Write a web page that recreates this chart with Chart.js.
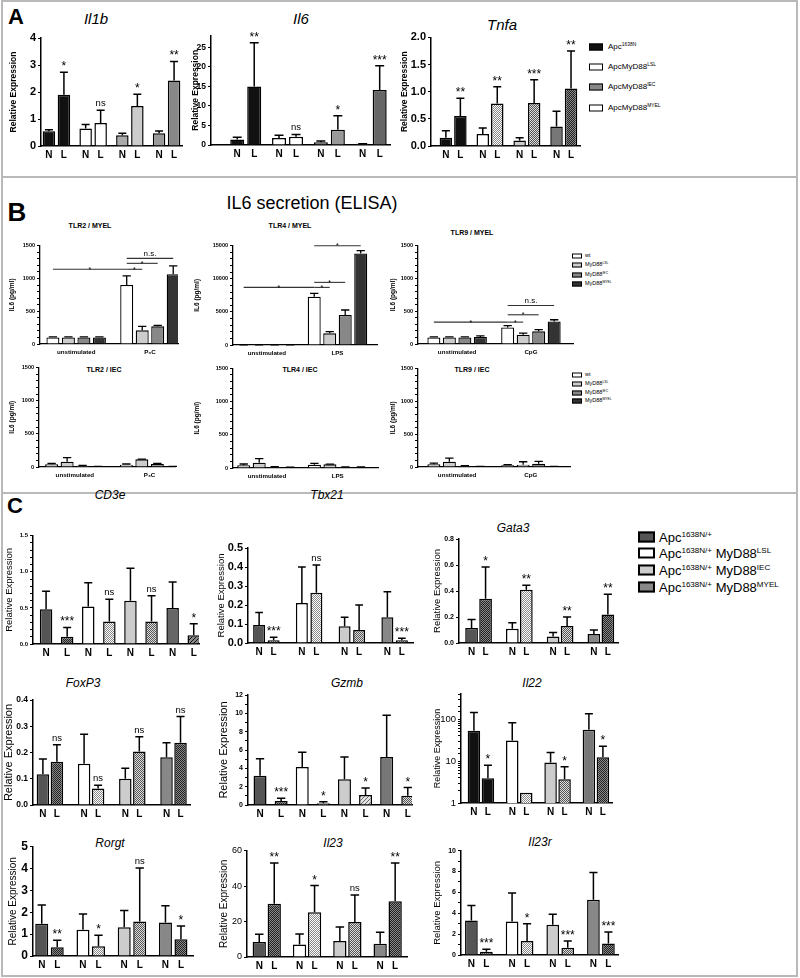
<!DOCTYPE html>
<html lang="en">
<head>
<meta charset="UTF-8">
<title>Cytokine expression and IL6 secretion</title>
<script src="https://cdn.jsdelivr.net/npm/chart.js@4.4.1/dist/chart.umd.min.js"></script>
<style>
  body { margin: 0; background: #fff; }
  #page { position: relative; width: 800px; height: 978px; overflow: hidden; font-family: "Liberation Sans", Arial, sans-serif; color: #000; }
  .box { position: absolute; border: 2px solid #b9b9b9; box-sizing: border-box; }
  canvas { position: absolute; }
  .t { position: absolute; white-space: nowrap; transform: translate(-50%, -50%); line-height: 1; }
  .row { position: absolute; white-space: nowrap; line-height: 1; transform: translateY(-50%); }
  .sw { position: absolute; box-sizing: border-box; border: 1.5px solid #000; transform: translateY(-50%); }
  sup { font-size: 62%; vertical-align: 0.55em; line-height: 0; }
</style>
</head>
<body>
<div id="page">
  <div class="box" style="left:1px;top:0;width:797px;height:178px"></div>
  <div class="box" style="left:1px;top:176px;width:797px;height:318px"></div>
  <div class="box" style="left:1px;top:492px;width:797px;height:485px"></div>

  <div class="t" style="left:16px;top:17px;font-size:22px;font-weight:bold">A</div>
  <div class="t" style="left:96px;top:18px;font-size:15px;font-style:italic">Il1b</div>
  <div class="t" style="left:301px;top:18px;font-size:15px;font-style:italic">Il6</div>
  <div class="t" style="left:502px;top:24px;font-size:15px;font-style:italic">Tnfa</div>

  <div class="sw" style="left:589px;top:47px;width:14px;height:7px;background:#111"></div>
  <div class="row" style="left:608px;top:47px;font-size:8px">Apc<sup>1638N</sup></div>
  <div class="sw" style="left:589px;top:67px;width:14px;height:7px;background:#fff"></div>
  <div class="row" style="left:608px;top:67px;font-size:8px">ApcMyD88<sup>LSL</sup></div>
  <div class="sw" style="left:589px;top:87px;width:14px;height:7px;background:#888"></div>
  <div class="row" style="left:608px;top:87px;font-size:8px">ApcMyD88<sup>IEC</sup></div>
  <div class="sw" style="left:589px;top:108px;width:14px;height:7px;background:#fff"></div>
  <div class="row" style="left:608px;top:108px;font-size:8px">ApcMyD88<sup>MYEL</sup></div>

  <div class="t" style="left:17px;top:212px;font-size:26px;font-weight:bold">B</div>
  <div class="t" style="left:312px;top:203px;font-size:18px">IL6 secretion (ELISA)</div>
  <div class="t" style="left:90px;top:225px;font-size:7px;font-weight:bold">TLR2 / MYEL</div>
  <div class="t" style="left:290px;top:225px;font-size:7px;font-weight:bold">TLR4 / MYEL</div>
  <div class="t" style="left:472px;top:232px;font-size:7px;font-weight:bold">TLR9 / MYEL</div>
  <div class="t" style="left:104px;top:369px;font-size:7px;font-weight:bold">TLR2 / IEC</div>
  <div class="t" style="left:300px;top:369px;font-size:7px;font-weight:bold">TLR4 / IEC</div>
  <div class="t" style="left:472px;top:369px;font-size:7px;font-weight:bold">TLR9 / IEC</div>

  <div class="sw" style="left:572px;top:256px;width:10px;height:5px;background:#fff"></div>
  <div class="row" style="left:585px;top:256px;font-size:5.5px">wt</div>
  <div class="sw" style="left:572px;top:265px;width:10px;height:5px;background:#ccc"></div>
  <div class="row" style="left:585px;top:265px;font-size:5.5px">MyD88<sup>LSL</sup></div>
  <div class="sw" style="left:572px;top:275px;width:10px;height:5px;background:#888"></div>
  <div class="row" style="left:585px;top:275px;font-size:5.5px">MyD88<sup>IEC</sup></div>
  <div class="sw" style="left:572px;top:284px;width:10px;height:5px;background:#333"></div>
  <div class="row" style="left:585px;top:284px;font-size:5.5px">MyD88<sup>MYEL</sup></div>

  <div class="sw" style="left:572px;top:375px;width:10px;height:5px;background:#fff"></div>
  <div class="row" style="left:585px;top:375px;font-size:5.5px">wt</div>
  <div class="sw" style="left:572px;top:384px;width:10px;height:5px;background:#ccc"></div>
  <div class="row" style="left:585px;top:384px;font-size:5.5px">MyD88<sup>LSL</sup></div>
  <div class="sw" style="left:572px;top:393px;width:10px;height:5px;background:#888"></div>
  <div class="row" style="left:585px;top:393px;font-size:5.5px">MyD88<sup>IEC</sup></div>
  <div class="sw" style="left:572px;top:401px;width:10px;height:5px;background:#333"></div>
  <div class="row" style="left:585px;top:401px;font-size:5.5px">MyD88<sup>MYEL</sup></div>

  <div class="t" style="left:15px;top:506px;font-size:22px;font-weight:bold">C</div>
  <div class="t" style="left:110px;top:495px;font-size:12px;font-style:italic">CD3e</div>
  <div class="t" style="left:327px;top:495px;font-size:12px;font-style:italic">Tbx21</div>
  <div class="t" style="left:513px;top:528px;font-size:12px;font-style:italic">Gata3</div>
  <div class="t" style="left:83px;top:683px;font-size:12px;font-style:italic">FoxP3</div>
  <div class="t" style="left:347px;top:683px;font-size:12px;font-style:italic">Gzmb</div>
  <div class="t" style="left:532px;top:683px;font-size:12px;font-style:italic">Il22</div>
  <div class="t" style="left:110px;top:843px;font-size:12px;font-style:italic">Rorgt</div>
  <div class="t" style="left:333px;top:843px;font-size:12px;font-style:italic">Il23</div>
  <div class="t" style="left:540px;top:842px;font-size:12px;font-style:italic">Il23r</div>

  <div class="sw" style="left:638px;top:537px;width:17px;height:11px;border-width:2px;background:#555"></div>
  <div class="row" style="left:659px;top:537px;font-size:13px">Apc<sup>1638N/+</sup></div>
  <div class="sw" style="left:638px;top:553px;width:17px;height:11px;border-width:2px;background:#fff"></div>
  <div class="row" style="left:659px;top:553px;font-size:13px">Apc<sup>1638N/+</sup> MyD88<sup>LSL</sup></div>
  <div class="sw" style="left:638px;top:570px;width:17px;height:11px;border-width:2px;background:#ccc"></div>
  <div class="row" style="left:659px;top:570px;font-size:13px">Apc<sup>1638N/+</sup> MyD88<sup>IEC</sup></div>
  <div class="sw" style="left:638px;top:587px;width:17px;height:11px;border-width:2px;background:#888"></div>
  <div class="row" style="left:659px;top:587px;font-size:13px">Apc<sup>1638N/+</sup> MyD88<sup>MYEL</sup></div>
</div>

<script>
// ---- data: bars in order N,L,N,L,... (A, C) or wt,LSL,IEC,MYEL per stimulus (B)
const nlLabels = ["N", "L"];

// panel A
const il1bMean  = [0.55, 1.9, 0.65, 0.85, 0.4, 1.48, 0.47, 2.43];
const il1bUpper = [0.6, 2.73, 0.8, 1.32, 0.47, 1.92, 0.56, 3.13];
const il1bSig   = ["", "*", "", "ns", "", "*", "", "**"];
const il6Mean   = [1.4, 15, 1.8, 2.1, 0.7, 3.9, 0.3, 14.1];
const il6Upper  = [2.0, 26.2, 2.5, 2.7, 1.0, 7.5, 0.35, 20.3];
const il6Sig    = ["", "**", "", "ns", "", "*", "", "***"];
const tnfaMean  = [0.15, 0.55, 0.22, 0.78, 0.1, 0.79, 0.36, 1.06];
const tnfaUpper = [0.28, 0.88, 0.33, 1.09, 0.15, 1.22, 0.64, 1.75];
const tnfaSig   = ["", "**", "", "**", "", "***", "", "**"];

// panel B
const tlr2Groups = ["unstimulated", "P\u2083C"];
const tlr4Groups = ["unstimulated", "LPS"];
const tlr9Groups = ["unstimulated", "CpG"];
const tlr2MyelMean  = [100, 100, 100, 100, 902, 208, 269, 1064];
const tlr2MyelUpper = [110, 110, 108, 108, 1039, 269, 284, 1191];
const tlr2MyelBrackets = [[0, 4, 1140, "*"], [4, 5, 1140, "*"], [4, 6, 1231, "*"], [4, 7, 1307, "n.s."]];
const tlr4MyelMean  = [30, 30, 30, 30, 7300, 1760, 4530, 13840];
const tlr4MyelUpper = [40, 40, 40, 40, 7800, 2010, 5285, 14245];
const tlr4MyelBrackets = [[0, 4, 8700, "*"], [4, 5, 8700, "*"], [4, 6, 9460, "*"], [4, 7, 15000, "*"]];
const tlr9MyelMean  = [100, 100, 100, 105, 253, 142, 193, 345];
const tlr9MyelUpper = [108, 108, 108, 125, 279, 167, 218, 370];
const tlr9MyelBrackets = [[0, 4, 334, "*"], [4, 5, 334, "*"], [4, 6, 446, "*"], [4, 7, 588, "n.s."]];
const tlr2IecMean  = [40, 80, 20, 8, 35, 115, 45, 8];
const tlr2IecUpper = [55, 140, 25, 10, 45, 118, 55, 10];
const tlr4IecMean  = [40, 80, 15, 10, 50, 55, 15, 12];
const tlr4IecUpper = [60, 140, 20, 12, 70, 58, 18, 15];
const tlr9IecMean  = [40, 80, 15, 8, 25, 35, 50, 8];
const tlr9IecUpper = [60, 135, 20, 10, 35, 80, 85, 10];

// panel C
const cd3eMean   = [0.48, 0.1, 0.52, 0.31, 0.6, 0.31, 0.5, 0.12];
const cd3eUpper  = [0.73, 0.23, 0.85, 0.62, 1.05, 0.67, 0.86, 0.28];
const cd3eSig    = ["", "***", "", "ns", "", "ns", "", "*"];
const tbx21Mean  = [0.095, 0.015, 0.21, 0.265, 0.088, 0.068, 0.135, 0.015];
const tbx21Upper = [0.16, 0.03, 0.4, 0.41, 0.135, 0.2, 0.27, 0.025];
const tbx21Sig   = ["", "***", "", "ns", "", "", "", "***"];
const gata3Mean  = [0.115, 0.34, 0.11, 0.41, 0.05, 0.13, 0.07, 0.22];
const gata3Upper = [0.18, 0.585, 0.155, 0.445, 0.08, 0.2, 0.1, 0.375];
const gata3Sig   = ["", "*", "", "**", "", "**", "", "**"];
const foxp3Mean  = [0.117, 0.165, 0.157, 0.063, 0.1, 0.204, 0.182, 0.237];
const foxp3Upper = [0.175, 0.23, 0.27, 0.075, 0.14, 0.26, 0.237, 0.337];
const foxp3Sig   = ["", "ns", "", "ns", "", "ns", "", "ns"];
const gzmbMean   = [3.2, 0.45, 4.15, 0.2, 2.8, 1.1, 5.25, 1.0];
const gzmbUpper  = [5.05, 0.75, 5.75, 0.35, 5.25, 1.85, 9.8, 1.9];
const gzmbSig    = ["", "***", "", "*", "", "*", "", "*"];
const il22Mean   = [53, 3.9, 31, 1.75, 9.3, 3.7, 56, 12.3];
const il22Upper  = [145, 8, 82, 1.75, 16, 7.3, 135, 22.5];
const il22Sig    = ["", "*", "", "", "", "*", "", "*"];
const rorgtMean  = [1.48, 0.4, 1.2, 0.45, 1.32, 1.58, 1.53, 0.77];
const rorgtUpper = [2.33, 0.72, 1.92, 0.95, 2.08, 4.02, 2.3, 1.37];
const rorgtSig   = ["", "**", "", "*", "", "ns", "", "*"];
const il23Mean   = [8.5, 30, 7, 25.3, 9, 19.8, 7.5, 31.5];
const il23Upper  = [12.8, 53, 13, 40.3, 17, 35, 14, 53];
const il23Sig    = ["", "**", "", "*", "", "ns", "", "**"];
const il23rMean  = [3.3, 0.3, 3.2, 1.35, 2.9, 0.7, 5.3, 1.1];
const il23rUpper = [4.75, 0.55, 5.95, 3.0, 3.9, 1.35, 7.9, 2.2];
const il23rSig   = ["", "***", "", "*", "", "***", "", "***"];

// ---- styles
const FONT = '"Liberation Sans", Arial, sans-serif';
Chart.defaults.font.family = FONT;
Chart.defaults.color = '#000';

function pattern(bg, fg, kind) {
  const c = document.createElement('canvas');
  c.width = 4; c.height = 4;
  const g = c.getContext('2d');
  g.fillStyle = bg; g.fillRect(0, 0, 4, 4);
  g.fillStyle = fg;
  for (let i = 0; i < 4; i++) for (let j = 0; j < 4; j++) {
    const on = kind === 'hatch' ? (i + j) % 4 === 0 : (i + j) % 2 === 0;
    if (on) g.fillRect(i, j, 1, 1);
  }
  return g.createPattern(c, 'repeat');
}
const pats = {
  pL: pattern('#fff', '#888', 'chk'),
  pM: pattern('#ddd', '#555', 'chk'),
  pD: pattern('#888', '#222', 'chk'),
  hL: pattern('#e4e4e4', '#666', 'hatch'),
  hD: pattern('#888', '#111', 'hatch')
};
const fillOf = k => pats[k] || k;

const fillIl1b = ['#111', '#111', '#fff', '#fff', '#aaa', '#ccc', '#999', '#888'];
const fillIl6  = ['#111', '#111', '#fff', '#fff', '#777', '#999', '#999', '#666'];
const fillTnfa = ['#111', '#111', '#fff', 'pL', '#ccc', 'pM', '#777', 'pD'];
const fillB    = ['#fff', '#ccc', '#888', '#333', '#fff', '#ccc', '#888', '#333'];
const fillC    = ['#555', 'pD', '#fff', 'pL', '#ccc', 'pM', '#888', 'pD'];
const fillCd3e = ['#555', 'pD', '#fff', 'pL', '#ccc', 'pM', '#666', 'hD'];
const fillGzmb = ['#555', 'pD', '#fff', 'pL', '#ccc', 'hL', '#777', 'pM'];
const fillIl22 = ['#111', '#111', '#fff', 'pL', '#ccc', 'pM', '#777', 'pD'];

const page = document.getElementById('page');

function build(s) {
  const PT = 16, PR = 8, LB = 22;
  const cl = Math.round(s.yTitleX - s.yTitleFont[0] * 0.6);
  const ct = Math.round(s.area[1]) - PT;
  const LW = s.area[0] - cl;
  const cv = document.createElement('canvas');
  cv.width = Math.round(s.area[2]) - cl + PR;
  cv.height = Math.round(s.area[3]) - ct + LB;
  cv.style.left = cl + 'px';
  cv.style.top = ct + 'px';
  page.appendChild(cv);

  const nds = s.nds;
  const groups = s.mean.length / nds;
  const groupIdx = [];
  for (let g = 0; g < groups; g++) groupIdx.push(g);
  const span = (s.area[2] - s.area[0]) / (s.xmax - s.xmin);
  const datasets = [];
  for (let d = 0; d < nds; d++) {
    const idx = groupIdx.map(g => g * nds + d);
    datasets.push({
      data: idx.map((i, g) => ({ x: g, y: s.mean[i] })),
      backgroundColor: idx.map(i => fillOf(s.fill[i])),
      borderColor: '#000',
      borderWidth: s.bw || 1.5,
      borderSkipped: 'bottom',
      categoryPercentage: nds * s.slot / span,
      barPercentage: s.bar / s.slot
    });
  }

  const tickStep = s.minor || s.step;
  const onStep = (v, st) => Math.abs(v / st - Math.round(v / st)) < 1e-6;
  const yScale = {
    type: s.log ? 'logarithmic' : 'linear',
    min: s.log ? 1 : 0,
    max: s.max,
    bounds: 'data',
    afterFit: sc => { sc.width = LW; },
    // keep only ticks on the step grid (drops the bare max bound)
    afterBuildTicks: sc => { if (!s.log) sc.ticks = sc.ticks.filter(t => onStep(t.value, tickStep)); },
    border: { display: true, color: '#000', width: s.aw || 1.5 },
    grid: { drawOnChartArea: false, drawTicks: true, tickLength: 3, tickColor: '#000', tickWidth: 1.2 },
    ticks: {
      stepSize: s.log ? undefined : tickStep,
      includeBounds: false,
      autoSkip: false,
      padding: 2,
      color: '#000',
      font: { size: s.tick[0], weight: s.tick[1] },
      callback: v => s.log ? ([1, 10, 100].includes(v) ? String(v) : '') : (onStep(v, s.step) ? v.toFixed(s.dec) : '')
    },
    title: { display: true, text: s.yTitle, padding: 0, color: '#000', font: { size: s.yTitleFont[0], weight: s.yTitleFont[1] } }
  };

  const extras = {
    id: 'extras',
    afterDatasetsDraw(chart) {
      const ctx = chart.ctx, ys = chart.scales.y, xs = chart.scales.x, area = chart.chartArea;
      const bars = [];
      chart.data.datasets.forEach((ds, d) => {
        chart.getDatasetMeta(d).data.forEach((el, g) => { bars[g * nds + d] = el; });
      });
      ctx.save();
      ctx.strokeStyle = '#000';
      ctx.fillStyle = '#000';
      ctx.textAlign = 'center';
      bars.forEach((el, i) => {
        let top = el.y;
        if (s.upper[i] > s.mean[i]) {
          top = ys.getPixelForValue(s.upper[i]);
          const cap = el.width * 0.32;
          ctx.lineWidth = s.ew || 1.5;
          ctx.beginPath();
          ctx.moveTo(el.x, el.y); ctx.lineTo(el.x, top);
          ctx.moveTo(el.x - cap, top); ctx.lineTo(el.x + cap, top);
          ctx.stroke();
        }
        const sg = s.sig && s.sig[i];
        if (sg) {
          const star = sg[0] === '*';
          ctx.font = (star ? s.starSize || 12 : s.nsSize || 9.5) + 'px ' + FONT;
          ctx.textBaseline = 'alphabetic';
          ctx.fillText(sg, el.x, top - (star ? 2 : 4));
        }
        if (s.nl) {
          ctx.font = 'bold ' + (s.nlSize || 10) + 'px ' + FONT;
          ctx.textBaseline = 'middle';
          ctx.fillText(s.nl[i % s.nl.length], el.x, area.bottom + 9);
        }
      });
      (s.groups || []).forEach((lab, g) => {
        ctx.font = 'bold 6.2px ' + FONT;
        ctx.textBaseline = 'middle';
        ctx.fillText(lab, xs.getPixelForValue(g), area.bottom + 8);
      });
      (s.brackets || []).forEach(([a, b, v, lab]) => {
        const y = ys.getPixelForValue(v);
        ctx.lineWidth = 1.1;
        ctx.strokeStyle = '#333';
        ctx.beginPath(); ctx.moveTo(bars[a].x, y); ctx.lineTo(bars[b].x, y); ctx.stroke();
        const star = lab[0] === '*';
        ctx.font = (star ? 7 : 8) + 'px ' + FONT;
        ctx.textBaseline = 'alphabetic';
        ctx.fillText(lab, (bars[a].x + bars[b].x) / 2, y + (star ? 2.5 : -2));
      });
      ctx.restore();
    }
  };

  return new Chart(cv, {
    type: 'bar',
    data: { datasets },
    options: {
      responsive: false,
      animation: false,
      devicePixelRatio: 1,
      events: [],
      layout: { padding: { left: 0, top: s.area[1] - ct, right: PR, bottom: 0 } },
      plugins: { legend: { display: false }, tooltip: { enabled: false } },
      scales: {
        x: {
          type: 'linear', min: s.xmin, max: s.xmax, offset: false, bounds: 'data',
          afterBuildTicks: sc => { sc.ticks = groupIdx.map(v => ({ value: v })); },
          afterFit: sc => { sc.height = LB; },
          border: { display: true, color: '#000', width: s.aw || 1.5 },
          grid: { display: false },
          ticks: { display: false }
        },
        y: yScale
      }
    },
    plugins: [extras]
  });
}

const relExp = 'Relative Expression';
const il6Y = 'IL6 (pg/ml)';

// panel A
build({ nds: 2, mean: il1bMean, upper: il1bUpper, sig: il1bSig, fill: fillIl1b, nl: nlLabels,
  area: [41, 38, 182, 146], xmin: -0.42, xmax: 3.42, slot: 15, bar: 12.5,
  max: 4, step: 1, dec: 0, tick: [11, 'bold'], yTitle: relExp, yTitleX: 14, yTitleFont: [8.5, 'bold'] });
build({ nds: 2, mean: il6Mean, upper: il6Upper, sig: il6Sig, fill: fillIl6, nl: nlLabels,
  area: [211, 35.6, 390, 145], xmin: -0.83, xmax: 3.45, slot: 17, bar: 14,
  max: 28, step: 5, dec: 0, tick: [8.5, 'bold'], yTitle: relExp, yTitleX: 196, yTitleFont: [8.5, 'bold'] });
build({ nds: 2, mean: tnfaMean, upper: tnfaUpper, sig: tnfaSig, fill: fillTnfa, nl: nlLabels,
  area: [431, 37.3, 580, 145.7], xmin: -0.6, xmax: 3.44, slot: 14.5, bar: 12.5,
  max: 2, step: 0.5, dec: 1, tick: [11, 'bold'], yTitle: relExp, yTitleX: 405, yTitleFont: [8.5, 'bold'] });

// panel B
const bStyle = { nds: 4, fill: fillB, slot: 15.5, bar: 13, tick: [5.5, 'bold'], yTitle: il6Y, yTitleFont: [6.5, 'bold'], dec: 0, bw: 1.3, ew: 1.3, aw: 1.3 };
build(Object.assign({}, bStyle, { mean: tlr2MyelMean, upper: tlr2MyelUpper, brackets: tlr2MyelBrackets, groups: tlr2Groups,
  area: [40, 245.7, 178, 344.3], xmin: -0.49, xmax: 1.38, max: 1500, step: 500, minor: 100, yTitleX: 12 }));
build(Object.assign({}, bStyle, { mean: tlr4MyelMean, upper: tlr4MyelUpper, brackets: tlr4MyelBrackets, groups: tlr4Groups,
  area: [233, 245.7, 377, 345], xmin: -0.48, xmax: 1.56, max: 15000, step: 5000, minor: 1000, yTitleX: 197 }));
build(Object.assign({}, bStyle, { mean: tlr9MyelMean, upper: tlr9MyelUpper, brackets: tlr9MyelBrackets, groups: tlr9Groups,
  area: [418, 245.7, 573, 344.3], xmin: -0.53, xmax: 1.57, max: 1500, step: 500, minor: 100, yTitleX: 393 }));
build(Object.assign({}, bStyle, { mean: tlr2IecMean, upper: tlr2IecUpper, groups: tlr2Groups,
  area: [39, 367.5, 175, 466.7], xmin: -0.48, xmax: 1.34, max: 1500, step: 500, minor: 100, yTitleX: 12 }));
build(Object.assign({}, bStyle, { mean: tlr4IecMean, upper: tlr4IecUpper, groups: tlr4Groups,
  area: [233, 368.3, 378, 468.3], xmin: -0.48, xmax: 1.57, max: 1500, step: 500, minor: 100, yTitleX: 197 }));
build(Object.assign({}, bStyle, { mean: tlr9IecMean, upper: tlr9IecUpper, groups: tlr9Groups,
  area: [418, 368.5, 570, 467], xmin: -0.53, xmax: 1.53, max: 1500, step: 500, minor: 100, yTitleX: 393 }));

// panel C
build({ nds: 1, mean: cd3eMean, upper: cd3eUpper, sig: cd3eSig, fill: fillCd3e, nl: nlLabels,
  area: [33, 535.7, 199, 644.3], xmin: -0.62, xmax: 7.25, slot: 21, bar: 12.5,
  max: 1.5, step: 0.5, minor: 0.1, dec: 1, tick: [6, 'bold'], yTitle: relExp, yTitleX: 10, yTitleFont: [9.5, 'normal'] });
build({ nds: 2, mean: tbx21Mean, upper: tbx21Upper, sig: tbx21Sig, fill: fillC, nl: nlLabels,
  area: [248, 548, 413, 643.3], xmin: -0.43, xmax: 3.43, slot: 14.5, bar: 12,
  max: 0.5, step: 0.1, dec: 1, tick: [11, 'bold'], yTitle: relExp, yTitleX: 222, yTitleFont: [9.5, 'normal'] });
build({ nds: 2, mean: gata3Mean, upper: gata3Upper, sig: gata3Sig, fill: fillC, nl: nlLabels,
  area: [459, 539, 618, 643.3], xmin: -0.48, xmax: 3.42, slot: 14, bar: 12.7,
  max: 0.8, step: 0.2, dec: 1, tick: [7, 'bold'], yTitle: relExp, yTitleX: 438, yTitleFont: [9.5, 'normal'] });
build({ nds: 2, mean: foxp3Mean, upper: foxp3Upper, sig: foxp3Sig, fill: fillC, nl: nlLabels,
  area: [33, 700, 190, 805], xmin: -0.41, xmax: 3.4, slot: 14, bar: 12.5,
  max: 0.4, step: 0.1, dec: 1, tick: [8.5, 'bold'], yTitle: relExp, yTitleX: 9, yTitleFont: [11, 'normal'] });
build({ nds: 1, mean: gzmbMean, upper: gzmbUpper, sig: gzmbSig, fill: fillGzmb, nl: nlLabels,
  area: [248, 695, 412, 805], xmin: -0.57, xmax: 7.2, slot: 21, bar: 13,
  max: 12, step: 2, minor: 1, dec: 0, tick: [7, 'bold'], yTitle: relExp, yTitleX: 224, yTitleFont: [11, 'normal'] });
build({ nds: 2, mean: il22Mean, upper: il22Upper, sig: il22Sig, fill: fillIl22, nl: nlLabels, log: true,
  area: [461, 694, 612, 803.3], xmin: -0.52, xmax: 3.42, slot: 14, bar: 12.5,
  max: 400, step: 1, dec: 0, tick: [9.5, 'normal'], yTitle: relExp, yTitleX: 437, yTitleFont: [9, 'normal'] });
build({ nds: 2, mean: rorgtMean, upper: rorgtUpper, sig: rorgtSig, fill: fillC, nl: nlLabels,
  area: [33, 846.7, 193, 956], xmin: -0.4, xmax: 3.48, slot: 15.5, bar: 13,
  max: 5, step: 1, dec: 0, tick: [12, 'bold'], yTitle: relExp, yTitleX: 13, yTitleFont: [10, 'normal'] });
build({ nds: 2, mean: il23Mean, upper: il23Upper, sig: il23Sig, fill: fillC, nl: nlLabels,
  area: [247, 850.7, 407, 956.7], xmin: -0.49, xmax: 3.48, slot: 15, bar: 13.3,
  max: 60, step: 20, dec: 0, tick: [9, 'normal'], yTitle: relExp, yTitleX: 224, yTitleFont: [10, 'normal'] });
build({ nds: 2, mean: il23rMean, upper: il23rUpper, sig: il23rSig, fill: fillC, nl: nlLabels,
  area: [461, 850.7, 618, 955], xmin: -0.44, xmax: 3.42, slot: 15, bar: 12.7,
  max: 10, step: 2, minor: 1, dec: 0, tick: [7, 'bold'], yTitle: relExp, yTitleX: 438, yTitleFont: [9.5, 'normal'] });
</script>
</body>
</html>
